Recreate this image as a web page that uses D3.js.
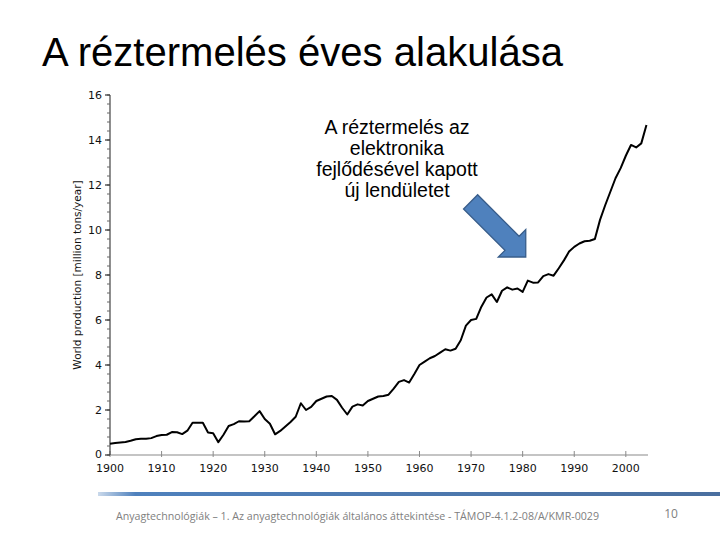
<!DOCTYPE html>
<html><head><meta charset="utf-8">
<script src="https://cdn.jsdelivr.net/npm/d3@7"></script>
<style>body{margin:0;background:#fff}svg{display:block}</style>
</head><body>
<script>
const years = d3.range(1900, 2005);
const production = [
 0.50,0.53,0.56,0.58,0.63,0.70,0.72,0.72,0.75,0.84,
 0.89,0.90,1.02,1.01,0.93,1.08,1.43,1.43,1.43,1.00,
 0.97,0.57,0.90,1.29,1.37,1.50,1.49,1.50,1.72,1.95,
 1.60,1.39,0.92,1.07,1.27,1.47,1.70,2.30,2.00,2.14,
 2.40,2.50,2.60,2.62,2.45,2.10,1.80,2.15,2.25,2.20,
 2.40,2.50,2.60,2.62,2.68,2.95,3.25,3.33,3.22,3.60,
 4.00,4.15,4.30,4.40,4.55,4.70,4.64,4.72,5.10,5.75,
 6.00,6.05,6.59,7.00,7.14,6.80,7.30,7.45,7.35,7.40,
 7.25,7.75,7.66,7.67,7.95,8.04,7.97,8.30,8.65,9.04,
 9.25,9.40,9.50,9.52,9.60,10.45,11.10,11.70,12.30,12.75,
 13.30,13.78,13.67,13.85,14.67];
const xTicks = d3.range(1900, 2001, 10);
const yTicks = d3.range(0, 17, 2);
const yMinorTicks = d3.range(0, 16.01, 0.4);
const title = "A réztermelés éves alakulása";
const yLabel = "World production [million tons/year]";
const noteLines = ["A réztermelés az", "elektronika", "fejlődésével kapott", "új lendületet"];
const footer = "Anyagtechnológiák – 1. Az anyagtechnológiák általános áttekintése - TÁMOP-4.1.2-08/A/KMR-0029";
const pageNo = "10";
const arrowTip = [1980.6, 8.8];

const W = 720, H = 540;
const svg = d3.select("body").append("svg").attr("width", W).attr("height", H);

const x = d3.scaleLinear().domain([1900, 2004.3]).range([110, 648]);
const y = d3.scaleLinear().domain([0, 16]).range([455, 95]);

// title
svg.append("text").attr("x", 42).attr("y", 66)
  .attr("font-family", "Liberation Sans, Arial, sans-serif").attr("font-size", 40)
  .attr("textLength", 521).attr("lengthAdjust", "spacingAndGlyphs")
  .attr("fill", "#000").text(title);

const axisFont = "DejaVu Sans, sans-serif";

// x axis
const gx = svg.append("g");
gx.append("line").attr("x1", x(1900)).attr("x2", 648).attr("y1", y(0)).attr("y2", y(0))
  .attr("stroke", "#8a8a8a").attr("stroke-width", 1.2);
gx.selectAll("line.t").data(xTicks).join("line").attr("class", "t")
  .attr("x1", d => x(d)).attr("x2", d => x(d)).attr("y1", y(0) - 4).attr("y2", y(0) + 2)
  .attr("stroke", "#8a8a8a");
gx.selectAll("text").data(xTicks).join("text")
  .attr("x", d => x(d)).attr("y", y(0) + 17).attr("text-anchor", "middle")
  .attr("font-family", axisFont).attr("font-size", 11).attr("fill", "#111").text(d => d);

// y axis
const gy = svg.append("g");
gy.append("line").attr("x1", x(1900)).attr("x2", x(1900)).attr("y1", y(16)).attr("y2", y(0))
  .attr("stroke", "#444").attr("stroke-width", 1.2);
gy.selectAll("line.m").data(yMinorTicks).join("line").attr("class", "m")
  .attr("x1", x(1900) - 3).attr("x2", x(1900)).attr("y1", d => y(d)).attr("y2", d => y(d))
  .attr("stroke", "#666");
gy.selectAll("line.t").data(yTicks).join("line").attr("class", "t")
  .attr("x1", x(1900) - 5).attr("x2", x(1900)).attr("y1", d => y(d)).attr("y2", d => y(d))
  .attr("stroke", "#333").attr("stroke-width", 1.2);
gy.selectAll("text").data(yTicks).join("text")
  .attr("x", x(1900) - 8).attr("y", d => y(d) + (d === 0 ? 2.5 : 4)).attr("text-anchor", "end")
  .attr("font-family", axisFont).attr("font-size", 11).attr("fill", "#111").text(d => d);
svg.append("text").attr("transform", `translate(81,${(y(0)+y(16))/2}) rotate(-90)`)
  .attr("text-anchor", "middle").attr("font-family", axisFont).attr("font-size", 10.5)
  .attr("fill", "#111").text(yLabel);

// line
const line = d3.line().x((d, i) => x(years[i])).y(d => y(d));
svg.append("path").datum(production).attr("d", line)
  .attr("fill", "none").attr("stroke", "#000").attr("stroke-width", 2)
  .attr("stroke-linejoin", "round");

// annotation text
const note = svg.append("text").attr("font-family", "Liberation Sans, Arial, sans-serif")
  .attr("font-size", 19.5).attr("text-anchor", "middle").attr("fill", "#000");
noteLines.forEach((t, i) => note.append("tspan").attr("x", 397).attr("y", 134 + i * 21).text(t));

// block arrow pointing south-east, tip anchored in data space
const tx = x(arrowTip[0]), ty = y(arrowTip[1]);
const L = 78, hw = 10, headW = 19.4, headL = 19.4;
const pts = [[-L, -hw], [-headL, -hw], [-headL, -headW], [0, 0], [-headL, headW], [-headL, hw], [-L, hw]];
const rot = Math.PI / 4;
const arrowPts = pts.map(([px, py]) => [tx + (px * Math.cos(rot) - py * Math.sin(rot)), ty + (px * Math.sin(rot) + py * Math.cos(rot))]);
svg.append("polygon").attr("points", arrowPts.map(p => p.join(",")).join(" "))
  .attr("fill", "#4F81BD").attr("stroke", "#385D8A").attr("stroke-width", 1.3)
  .attr("stroke-linejoin", "miter");

// footer bar
const grad = svg.append("defs").append("linearGradient").attr("id", "fb");
grad.append("stop").attr("offset", "0").attr("stop-color", "#4F81BD").attr("stop-opacity", 0.3);
grad.append("stop").attr("offset", "0.06").attr("stop-color", "#4F81BD").attr("stop-opacity", 1);
grad.append("stop").attr("offset", "1").attr("stop-color", "#4A6F9F").attr("stop-opacity", 1);
svg.append("rect").attr("x", 98).attr("y", 492).attr("width", 622).attr("height", 4).attr("fill", "url(#fb)");

svg.append("text").attr("x", 116).attr("y", 520).attr("textLength", 483).attr("lengthAdjust", "spacingAndGlyphs")
  .attr("font-family", "Open Sans, sans-serif").attr("font-size", 11.5).attr("fill", "#808080").text(footer);
svg.append("text").attr("x", 671).attr("y", 518).attr("text-anchor", "middle")
  .attr("font-family", "Open Sans, sans-serif").attr("font-size", 12).attr("fill", "#808080").text(pageNo);
</script>
</body></html>
